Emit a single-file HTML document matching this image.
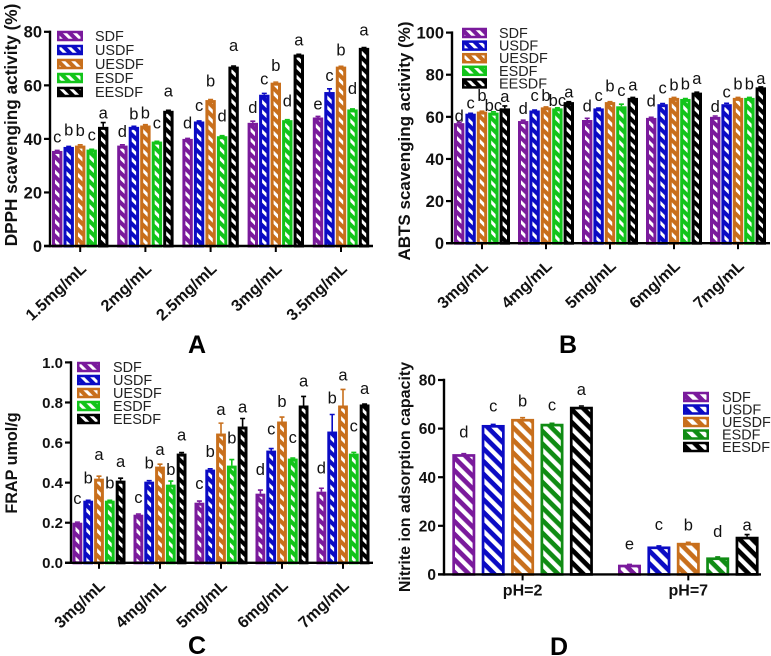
<!DOCTYPE html>
<html>
<head>
<meta charset="utf-8">
<title>Antioxidant activity bar charts</title>
<style>
html,body{margin:0;padding:0;background:#fff;}
svg{display:block;font-family:"Liberation Sans",Arial,sans-serif;}
</style>
</head>
<body>
<svg id="figure" width="771" height="656" viewBox="0 0 771 656" xmlns="http://www.w3.org/2000/svg"><defs id="defs"></defs></svg>
<script>
const seriesNames = ['SDF','USDF','UESDF','ESDF','EESDF'];

const categoriesA = ['1.5mg/mL','2mg/mL','2.5mg/mL','3mg/mL','3.5mg/mL'];
const ticksA = [0,20,40,60,80];
const sdfA = [35.5,37.5,40,46,48];
const usdfA = [37,44.5,46.5,56.5,57.5];
const uesdfA = [37.5,45,54.5,61,67];
const esdfA = [36,39,41,47,51];
const eesdfA = [44.5,50.5,67,71.5,74];
const errSdfA = [0.2,0.3,0.2,0.6,0.4];
const errUsdfA = [0.2,0.2,0.2,0.5,1.2];
const errUesdfA = [0.3,0.3,0.2,0.2,0.1];
const errEsdfA = [0.1,0.1,0.2,0.2,0.2];
const errEesdfA = [1.6,0.2,0.2,0.1,0.1];
const lettersSdfA = ['c','d','d','d','e'];
const lettersUsdfA = ['b','b','c','c','c'];
const lettersUesdfA = ['b','b','b','b','b'];
const lettersEsdfA = ['c','c','d','d','d'];
const lettersEesdfA = ['a','a','a','a','a'];

const categoriesB = ['3mg/mL','4mg/mL','5mg/mL','6mg/mL','7mg/mL'];
const ticksB = [0,20,40,60,80,100];
const sdfB = [57,58,58.5,59.5,60];
const usdfB = [61.5,63,64,66,66];
const uesdfB = [62.5,64.5,67,69,69];
const esdfB = [62,64,65,68.5,69];
const eesdfB = [64,67,69,71.5,74];
const errSdfB = [0.4,0.4,0.8,0.3,0.4];
const errUsdfB = [0.2,0.2,0.2,0.3,0.4];
const errUesdfB = [0.2,0.2,0.2,0.2,0.2];
const errEsdfB = [0.4,0.3,1,0.2,0.2];
const errEesdfB = [1.2,0.2,0.2,0.2,0.2];
const lettersSdfB = ['d','d','d','d','d'];
const lettersUsdfB = ['c','c','c','c','c'];
const lettersUesdfB = ['b','b','b','b','b'];
const lettersEsdfB = ['bc','bc','c','b','b'];
const lettersEesdfB = ['a','a','a','a','a'];

const categoriesC = ['3mg/mL','4mg/mL','5mg/mL','6mg/mL','7mg/mL'];
const ticksC = [0,0.2,0.4,0.6,0.8,1];
const sdfC = [0.2,0.24,0.3,0.345,0.355];
const usdfC = [0.31,0.405,0.465,0.56,0.655];
const uesdfC = [0.42,0.48,0.645,0.705,0.785];
const esdfC = [0.31,0.39,0.485,0.52,0.545];
const eesdfC = [0.41,0.545,0.68,0.785,0.79];
const errSdfC = [0.003,0.003,0.008,0.018,0.017];
const errUsdfC = [0.002,0.005,0.004,0.01,0.085];
const errUesdfC = [0.012,0.012,0.052,0.022,0.08];
const errEsdfC = [0.002,0.018,0.03,0.003,0.006];
const errEesdfC = [0.012,0.005,0.04,0.045,0.002];
const lettersSdfC = ['c','c','c','d','d'];
const lettersUsdfC = ['b','b','b','c','b'];
const lettersUesdfC = ['a','a','a','b','a'];
const lettersEsdfC = ['b','b','b','c','c'];
const lettersEesdfC = ['a','a','a','a','a'];

const categoriesD = ['pH=2','pH=7'];
const ticksD = [0,20,40,60,80];
const sdfD = [49.5,4];
const usdfD = [61.5,11.5];
const uesdfD = [64,13];
const esdfD = [62,7];
const eesdfD = [69,15.5];
const errSdfD = [0.2,0.1];
const errUsdfD = [0.2,0.2];
const errUesdfD = [0.5,0.2];
const errEsdfD = [0.2,0.2];
const errEesdfD = [0.3,0.9];
const lettersSdfD = ['d','e'];
const lettersUsdfD = ['c','c'];
const lettersUesdfD = ['b','b'];
const lettersEsdfD = ['c','d'];
const lettersEesdfD = ['a','a'];

const NS = 'http://www.w3.org/2000/svg';
const svg = document.getElementById('figure');
const defs = document.getElementById('defs');

function node(parent, tag, attrs, text){
  const el = document.createElementNS(NS, tag);
  for(const k in attrs){ el.setAttribute(k, attrs[k]); }
  if(text !== undefined){ el.textContent = text; }
  parent.appendChild(el);
  return el;
}

function makePattern(id, color, period, angle, whiteShare){
  const p = node(defs,'pattern',{id:id,patternUnits:'userSpaceOnUse',width:period,height:period,patternTransform:'rotate('+angle+')'});
  node(p,'rect',{x:0,y:0,width:period,height:period,fill:color});
  node(p,'rect',{x:0,y:0,width:period*whiteShare,height:period,fill:'#fff'});
}

function drawPanel(c){
  const g = node(svg,'g',{});
  
  
  const yOf = v => c.y0 - (v/c.yMax)*(c.y0-c.yTop);

  c.colors.forEach((col,i)=>{ makePattern('hatch-'+c.key+'-'+i, col, c.period, -45, c.whiteShare); });

  c.series.forEach((vals,s)=>{
    vals.forEach((v,k)=>{
      const x = c.x0 + k*c.groupStep + s*c.barStep;
      const top = yOf(v);
      const cx = x + c.barW/2;
      const err = yOf(v) - yOf(v + c.errors[s][k]);
      const eb = node(g,'path',{d:'M'+cx+' '+top+'V'+(top-err)+'M'+(cx-2.5)+' '+(top-err)+'H'+(cx+2.5),stroke:c.colors[s],'stroke-width':1.6,fill:'none'});
      
      
      const sw = c.barStroke;
      const bar = node(g,'rect',{x:x+sw/2,y:top+sw/2,width:c.barW-sw,height:Math.max(0,c.y0-top-sw/2),fill:'url(#hatch-'+c.key+'-'+s+')',stroke:c.colors[s],'stroke-width':sw});
      
      
      const lab = node(g,'text',{x:cx,y:top-err-c.letterGaps[s][k],'font-size':c.letterSize,'text-anchor':'middle',fill:'#111'},c.letters[s][k]);
      
      
    });
  });

  const yAxis = node(g,'line',{x1:c.axisX,x2:c.axisX,y1:c.yTop-1.2,y2:c.y0+1.2,stroke:'#000','stroke-width':2.4});
  
  
  const xAxis = node(g,'line',{x1:c.axisX-6,x2:c.axisEnd,y1:c.y0,y2:c.y0,stroke:'#000','stroke-width':2.4});
  
  

  c.ticks.forEach(t=>{
    const y = yOf(t);
    const tick = node(g,'line',{x1:c.axisX-6,x2:c.axisX,y1:y,y2:y,stroke:'#000','stroke-width':2.2});
    
    
    const label = node(g,'text',{x:c.axisX-8,y:y+c.yLabelSize*0.36,'font-size':c.yLabelSize,'font-weight':'bold','text-anchor':'end',fill:'#111'},c.tickFormat(t));
    
    
  });

  c.categories.forEach((name,k)=>{
    const x = c.x0 + k*c.groupStep + 2*c.barStep + c.barW/2;
    const tick = node(g,'line',{x1:x,x2:x,y1:c.y0,y2:c.y0+6,stroke:'#000','stroke-width':2});
    
    
    let label;
    if(c.rotate){
      const lx = x + c.catDx, ly = c.y0 + c.catDy;
      label = node(g,'text',{x:lx,y:ly,'font-size':c.catSize,'font-weight':'bold','text-anchor':'end',fill:'#111',transform:'rotate(-43 '+lx+' '+ly+')'},name);
    } else {
      label = node(g,'text',{x:x,y:c.y0+c.catDy,'font-size':c.catSize,'font-weight':'bold','text-anchor':'middle',fill:'#111'},name);
    }
    
    
  });

  const title = node(g,'text',{x:c.titleX,y:c.titleY,'font-size':c.titleSize,'font-weight':'bold','text-anchor':'middle',fill:'#111',transform:'rotate(-90 '+c.titleX+' '+c.titleY+')'},c.title);
  
  

  const legend = node(g,'g',{});
  
  
  seriesNames.forEach((n,i)=>{
    const y = c.legY + i*c.legStep;
    const sw = node(legend,'rect',{x:c.legX+1.25,y:y-4,width:c.legW-2.5,height:8,fill:'url(#hatch-'+c.key+'-'+i+')',stroke:c.colors[i],'stroke-width':2.5});
    
    
    const t = node(legend,'text',{x:c.legTextX,y:y+5,'font-size':14.4,fill:'#222'},n);
    
    
  });

  const pl = node(g,'text',{x:c.panelX,y:c.panelY,'font-size':25,'font-weight':'bold','text-anchor':'middle',fill:'#000'},c.key);
  
  
}

const brightColors = ['#7a1a9c','#0b0bc4','#c86f1c','#12c41a','#000000'];
const darkColors = ['#7a1a9c','#0b0bc4','#c86f1c','#108c14','#000000'];

drawPanel({key:'A',title:'DPPH scavenging activity (%)',titleX:17,titleY:125,titleSize:17.2,
  categories:categoriesA,ticks:ticksA,yMax:80,tickFormat:t=>String(t),
  series:[sdfA,usdfA,uesdfA,esdfA,eesdfA],errors:[errSdfA,errUsdfA,errUesdfA,errEsdfA,errEesdfA],
  letters:[lettersSdfA,lettersUsdfA,lettersUesdfA,lettersEsdfA,lettersEesdfA],
  letterGaps:[[8,8,10,8,7],[11,7,10,9,8],[9,6,13,11,11],[9,13,14,13,15],[4,14,15,9,12]],
  colors:brightColors,period:7,whiteShare:0.42,barStroke:3,x0:52,barW:10.4,barStep:11.5,groupStep:65.2,y0:246,yTop:31.8,axisX:50,axisEnd:373,
  yLabelSize:16.5,catSize:16.2,rotate:true,catDx:7,catDy:24,letterSize:16.5,
  legX:57,legW:26,legY:36,legStep:14,legTextX:95,panelX:197,panelY:353});

drawPanel({key:'B',title:'ABTS scavenging activity (%)',titleX:410,titleY:141,titleSize:17,
  categories:categoriesB,ticks:ticksB,yMax:100,tickFormat:t=>String(t),
  series:[sdfB,usdfB,uesdfB,esdfB,eesdfB],errors:[errSdfB,errUsdfB,errUesdfB,errEsdfB,errEesdfB],
  letters:[lettersSdfB,lettersUsdfB,lettersUesdfB,lettersEsdfB,lettersEesdfB],
  letterGaps:[[1,6,7,11,4],[5,9,7,10,6],[10,6,10,7,8],[1,2,8,9,8],[4,4,7,8,3]],
  colors:brightColors,period:7,whiteShare:0.42,barStroke:3,x0:454,barW:10.4,barStep:11.4,groupStep:64,y0:243.2,yTop:32.6,axisX:452,axisEnd:770,
  yLabelSize:16.5,catSize:16.2,rotate:true,catDx:7,catDy:24,letterSize:16.5,
  legX:462,legW:25,legY:33,legStep:12.6,legTextX:499,panelX:568,panelY:353});

drawPanel({key:'C',title:'FRAP umol/g',titleX:17,titleY:463,titleSize:16.2,
  categories:categoriesC,ticks:ticksC,yMax:1,tickFormat:t=>t.toFixed(1),
  series:[sdfC,usdfC,uesdfC,esdfC,eesdfC],errors:[errSdfC,errUsdfC,errUesdfC,errEsdfC,errEesdfC],
  letters:[lettersSdfC,lettersUsdfC,lettersUesdfC,lettersEsdfC,lettersEesdfC],
  letterGaps:[[18,11,12,15,15],[17,12,12,14,11],[16,9,8,10,9],[12,6,16,15,21],[11,12,6,10,10]],
  colors:brightColors,period:7,whiteShare:0.42,barStroke:3,x0:72.5,barW:9.8,barStep:10.8,groupStep:61,y0:562.8,yTop:362.4,axisX:71,axisEnd:373,
  yLabelSize:15,catSize:16.2,rotate:true,catDx:7,catDy:24,letterSize:16.5,
  legX:77,legW:23,legY:367,legStep:13,legTextX:113,panelX:197,panelY:654});

drawPanel({key:'D',title:'Nitrite ion adsorption capacity',titleX:410,titleY:477,titleSize:16,
  categories:categoriesD,ticks:ticksD,yMax:80,tickFormat:t=>String(t),
  series:[sdfD,usdfD,uesdfD,esdfD,eesdfD],errors:[errSdfD,errUsdfD,errUesdfD,errEsdfD,errEesdfD],
  letters:[lettersSdfD,lettersUsdfD,lettersUesdfD,lettersEsdfD,lettersEesdfD],
  letterGaps:[[16,15],[13,16],[11,12],[13,20],[11,4]],
  colors:darkColors,period:9,whiteShare:0.48,barStroke:2.7,x0:452.3,barW:23,barStep:29.4,groupStep:165.7,y0:574.4,yTop:380,axisX:444,axisEnd:761,
  yLabelSize:15.5,catSize:16,rotate:false,catDx:0,catDy:21,letterSize:16.5,
  legX:683,legW:26,legY:397,legStep:12.5,legTextX:722,panelX:559,panelY:655});
</script>
</body>
</html>
